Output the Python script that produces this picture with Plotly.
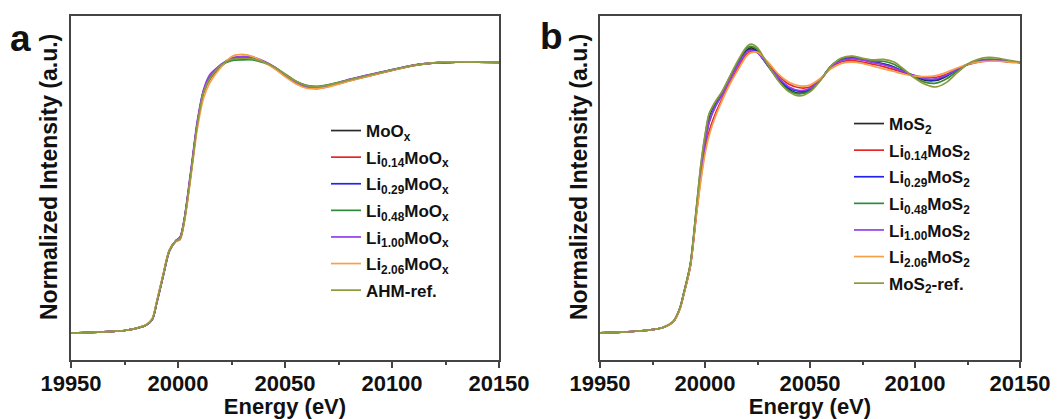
import plotly.graph_objects as go

# ---------------- data ----------------
energy_a = [19950, 19960, 19970, 19975, 19980, 19985, 19988, 19990, 19993, 19996,
            19999, 20001, 20003, 20005, 20007, 20009, 20012, 20015, 20020, 20025,
            20030, 20035, 20040, 20045, 20050, 20055, 20060, 20065, 20070, 20080,
            20090, 20100, 20110, 20120, 20130, 20140, 20150]

moox = [0.000, 0.002, 0.006, 0.009, 0.016, 0.028, 0.050, 0.110, 0.210, 0.305,
        0.340, 0.352, 0.420, 0.530, 0.650, 0.770, 0.890, 0.940, 0.985, 1.010,
        1.016, 1.014, 1.000, 0.980, 0.952, 0.927, 0.912, 0.908, 0.914, 0.933,
        0.952, 0.970, 0.988, 0.997, 1.000, 1.000, 0.999]
li014_moox = [0.000, 0.002, 0.006, 0.009, 0.016, 0.029, 0.052, 0.112, 0.212, 0.306,
              0.338, 0.345, 0.415, 0.525, 0.648, 0.768, 0.888, 0.938, 0.983, 1.012,
              1.020, 1.016, 1.000, 0.978, 0.949, 0.922, 0.906, 0.902, 0.909, 0.930,
              0.950, 0.969, 0.987, 0.997, 1.000, 1.000, 0.999]
li029_moox = [0.000, 0.002, 0.006, 0.009, 0.016, 0.028, 0.050, 0.109, 0.208, 0.303,
              0.340, 0.352, 0.418, 0.528, 0.650, 0.772, 0.895, 0.945, 0.990, 1.012,
              1.016, 1.013, 1.002, 0.982, 0.952, 0.926, 0.910, 0.906, 0.912, 0.934,
              0.953, 0.971, 0.988, 0.997, 1.000, 1.000, 0.999]
li048_moox = [0.000, 0.002, 0.006, 0.009, 0.016, 0.028, 0.050, 0.110, 0.209, 0.304,
              0.341, 0.353, 0.420, 0.530, 0.652, 0.772, 0.893, 0.945, 0.988, 1.005,
              1.008, 1.008, 0.998, 0.982, 0.956, 0.930, 0.914, 0.910, 0.916, 0.935,
              0.954, 0.971, 0.988, 0.997, 1.000, 1.000, 0.999]
li100_moox = [0.000, 0.002, 0.006, 0.009, 0.016, 0.028, 0.050, 0.108, 0.206, 0.302,
              0.340, 0.354, 0.425, 0.540, 0.662, 0.782, 0.900, 0.955, 0.990, 1.015,
              1.020, 1.018, 1.004, 0.982, 0.952, 0.925, 0.909, 0.905, 0.911, 0.936,
              0.955, 0.972, 0.989, 0.997, 1.000, 1.000, 0.999]
li206_moox = [0.000, 0.002, 0.006, 0.009, 0.016, 0.030, 0.054, 0.115, 0.214, 0.307,
              0.338, 0.348, 0.410, 0.515, 0.635, 0.752, 0.868, 0.925, 0.980, 1.020,
              1.028, 1.020, 1.000, 0.976, 0.946, 0.920, 0.904, 0.902, 0.908, 0.930,
              0.950, 0.969, 0.987, 0.998, 1.001, 1.000, 0.999]
ahm_ref = [0.000, 0.002, 0.006, 0.009, 0.016, 0.028, 0.051, 0.111, 0.210, 0.304,
           0.339, 0.350, 0.418, 0.528, 0.648, 0.768, 0.890, 0.940, 0.988, 1.010,
           1.014, 1.012, 1.000, 0.982, 0.955, 0.929, 0.913, 0.909, 0.915, 0.934,
           0.953, 0.971, 0.988, 0.997, 1.000, 1.000, 0.999]

energy_b = [19950, 19960, 19970, 19975, 19980, 19985, 19988, 19990, 19993, 19996,
            19998, 20000, 20002, 20005, 20008, 20012, 20016, 20020, 20022, 20025,
            20030, 20035, 20040, 20045, 20050, 20055, 20060, 20065, 20070, 20075,
            20080, 20085, 20090, 20095, 20100, 20105, 20110, 20115, 20120, 20125,
            20130, 20135, 20140, 20145, 20150]

mos2 = [0.000, 0.003, 0.008, 0.012, 0.020, 0.042, 0.090, 0.150, 0.250, 0.460,
        0.600, 0.710, 0.800, 0.850, 0.885, 0.945, 1.000, 1.045, 1.052, 1.038,
        0.985, 0.935, 0.900, 0.885, 0.897, 0.935, 0.985, 1.012, 1.018, 1.010,
        1.000, 0.993, 0.982, 0.963, 0.945, 0.932, 0.932, 0.948, 0.972, 0.992,
        1.003, 1.008, 1.006, 1.001, 0.999]
li014_mos2 = [0.000, 0.003, 0.008, 0.012, 0.020, 0.042, 0.088, 0.146, 0.245, 0.445,
              0.570, 0.672, 0.745, 0.810, 0.862, 0.925, 0.982, 1.030, 1.040, 1.036,
              0.995, 0.950, 0.918, 0.905, 0.908, 0.937, 0.978, 1.000, 1.005, 1.000,
              0.992, 0.983, 0.972, 0.960, 0.950, 0.943, 0.944, 0.955, 0.973, 0.990,
              1.000, 1.004, 1.004, 1.000, 0.999]
li029_mos2 = [0.000, 0.003, 0.008, 0.012, 0.020, 0.042, 0.089, 0.148, 0.248, 0.455,
              0.590, 0.700, 0.780, 0.838, 0.878, 0.940, 0.995, 1.040, 1.046, 1.036,
              0.988, 0.940, 0.905, 0.892, 0.900, 0.935, 0.982, 1.008, 1.015, 1.010,
              1.000, 0.992, 0.980, 0.963, 0.948, 0.936, 0.935, 0.950, 0.972, 0.991,
              1.002, 1.006, 1.005, 1.001, 0.999]
li048_mos2 = [0.000, 0.003, 0.008, 0.012, 0.020, 0.044, 0.091, 0.152, 0.254, 0.468,
              0.615, 0.725, 0.808, 0.852, 0.887, 0.948, 1.006, 1.052, 1.058, 1.046,
              0.988, 0.932, 0.895, 0.882, 0.894, 0.934, 0.985, 1.013, 1.020, 1.012,
              1.004, 1.003, 0.992, 0.968, 0.943, 0.925, 0.922, 0.938, 0.966, 0.992,
              1.006, 1.011, 1.009, 1.003, 0.999]
li100_mos2 = [0.000, 0.003, 0.008, 0.012, 0.020, 0.042, 0.089, 0.148, 0.247, 0.452,
              0.588, 0.698, 0.778, 0.836, 0.877, 0.938, 0.994, 1.038, 1.042, 1.034,
              0.988, 0.942, 0.908, 0.895, 0.902, 0.936, 0.982, 1.006, 1.012, 1.007,
              0.998, 0.990, 0.979, 0.963, 0.949, 0.938, 0.938, 0.952, 0.973, 0.991,
              1.002, 1.006, 1.005, 1.001, 0.999]
li206_mos2 = [0.000, 0.003, 0.008, 0.012, 0.020, 0.042, 0.087, 0.145, 0.245, 0.440,
              0.560, 0.660, 0.730, 0.800, 0.855, 0.920, 0.975, 1.025, 1.035, 1.036,
              1.000, 0.955, 0.925, 0.912, 0.915, 0.940, 0.975, 0.995, 1.000, 0.995,
              0.985, 0.975, 0.965, 0.955, 0.948, 0.946, 0.950, 0.962, 0.978, 0.992,
              1.000, 1.003, 1.003, 1.000, 0.999]
mos2_ref = [0.000, 0.003, 0.008, 0.012, 0.020, 0.045, 0.090, 0.150, 0.255, 0.470,
            0.620, 0.730, 0.810, 0.855, 0.890, 0.950, 1.010, 1.058, 1.066, 1.052,
            0.990, 0.930, 0.890, 0.875, 0.890, 0.932, 0.985, 1.015, 1.022, 1.014,
            1.008, 1.010, 1.000, 0.972, 0.940, 0.917, 0.908, 0.925, 0.960, 0.992,
            1.010, 1.017, 1.014, 1.006, 1.000]

names_a = ["MoO<sub>x</sub>", "Li<sub>0.14</sub>MoO<sub>x</sub>", "Li<sub>0.29</sub>MoO<sub>x</sub>",
           "Li<sub>0.48</sub>MoO<sub>x</sub>", "Li<sub>1.00</sub>MoO<sub>x</sub>",
           "Li<sub>2.06</sub>MoO<sub>x</sub>", "AHM-ref."]
names_b = ["MoS<sub>2</sub>", "Li<sub>0.14</sub>MoS<sub>2</sub>", "Li<sub>0.29</sub>MoS<sub>2</sub>",
           "Li<sub>0.48</sub>MoS<sub>2</sub>", "Li<sub>1.00</sub>MoS<sub>2</sub>",
           "Li<sub>2.06</sub>MoS<sub>2</sub>", "MoS<sub>2</sub>-ref."]
series_a = [moox, li014_moox, li029_moox, li048_moox, li100_moox, li206_moox, ahm_ref]
series_b = [mos2, li014_mos2, li029_mos2, li048_mos2, li100_mos2, li206_mos2, mos2_ref]
colors = ["#2b2b2b", "#e8262a", "#2323f0", "#2e8b3a", "#9040e8", "#f7a04a", "#8c9a3c"]

x_ticks = [19950, 20000, 20050, 20100, 20150]
x_tick_labels = ["19950", "20000", "20050", "20100", "20150"]
x_title = "Energy (eV)"
y_title = "Normalized Intensity (a.u.)"
panel_labels = ["a", "b"]

# ---------------- figure ----------------
W, H = 1062, 419
FONT = "Liberation Sans, Arial, sans-serif"

fig = go.Figure()
for name, ys, c in zip(names_a, series_a, colors):
    fig.add_trace(go.Scatter(x=energy_a, y=ys, mode="lines", name=name,
                             line=dict(color=c, width=1.7, shape="spline", smoothing=0.8),
                             xaxis="x", yaxis="y", legend="legend", legendgroup="a" + name))
for name, ys, c in zip(names_b, series_b, colors):
    fig.add_trace(go.Scatter(x=energy_b, y=ys, mode="lines", name=name,
                             line=dict(color=c, width=1.7, shape="spline", smoothing=0.8),
                             xaxis="x2", yaxis="y2", legend="legend2", legendgroup="b" + name))

def px_x(p):
    return p / W

def px_y(p):
    return 1 - p / H

AX_COLOR = "#444"
xaxis_common = dict(
    range=[19950, 20150], tickvals=x_ticks, ticktext=x_tick_labels,
    ticks="outside", ticklen=6, tickwidth=1.8, ticklabelstandoff=-3,
    tickcolor=AX_COLOR, showline=True, linewidth=1.8, linecolor=AX_COLOR, mirror=True,
    showgrid=False, zeroline=False,
    tickfont=dict(family=FONT, size=22, color="#111", weight="bold"),
    minor=dict(dtick=25, tick0=19950, ticks="outside", ticklen=3, tickwidth=1.5, tickcolor=AX_COLOR),
    title=dict(text=x_title, font=dict(family=FONT, size=22, color="#111", weight="bold"),
               standoff=2),
    automargin=False,
)
yaxis_common = dict(
    range=[-0.1, 1.17], showticklabels=False, ticks="", showline=True, linewidth=1.8,
    linecolor=AX_COLOR, mirror=True, showgrid=False, zeroline=False,
    automargin=False,
)

legend_common = dict(
    font=dict(family=FONT, size=17, color="#111", weight="bold"),
    bgcolor="rgba(0,0,0,0)", borderwidth=0, tracegroupgap=1.5,
    xanchor="left", yanchor="top",
)

title_font = dict(family=FONT, size=23, color="#111", weight="bold")
annotations = [
    dict(text=y_title, textangle=-90, x=px_x(49), y=px_y(177), xref="paper", yref="paper",
         xanchor="center", yanchor="middle", showarrow=False, font=title_font),
    dict(text=y_title, textangle=-90, x=px_x(579), y=px_y(177), xref="paper", yref="paper",
         xanchor="center", yanchor="middle", showarrow=False, font=title_font),
    dict(text=panel_labels[0], x=px_x(20), y=px_y(38), xref="paper", yref="paper",
         xanchor="center", yanchor="middle", showarrow=False,
         font=dict(family=FONT, size=37, color="#111", weight="bold")),
    dict(text=panel_labels[1], x=px_x(551), y=px_y(36), xref="paper", yref="paper",
         xanchor="center", yanchor="middle", showarrow=False,
         font=dict(family=FONT, size=37, color="#111", weight="bold")),
]

fig.update_layout(
    width=W, height=H, margin=dict(l=0, r=0, t=0, b=0),
    paper_bgcolor="white", plot_bgcolor="white",
    xaxis=dict(domain=[px_x(71), px_x(499)], anchor="y", **xaxis_common),
    yaxis=dict(domain=[px_y(360), px_y(16)], anchor="x", **yaxis_common),
    xaxis2=dict(domain=[px_x(600), px_x(1020)], anchor="y2", **xaxis_common),
    yaxis2=dict(domain=[px_y(360), px_y(16)], anchor="x2", **yaxis_common),
    legend=dict(x=px_x(326), y=px_y(113), **legend_common),
    legend2=dict(x=px_x(849), y=px_y(106), **legend_common),
    annotations=annotations,
)

fig.write_html("out.html", config={"displayModeBar": False},
               post_script="document.body.style.margin='0px';document.body.style.padding='0px';")
